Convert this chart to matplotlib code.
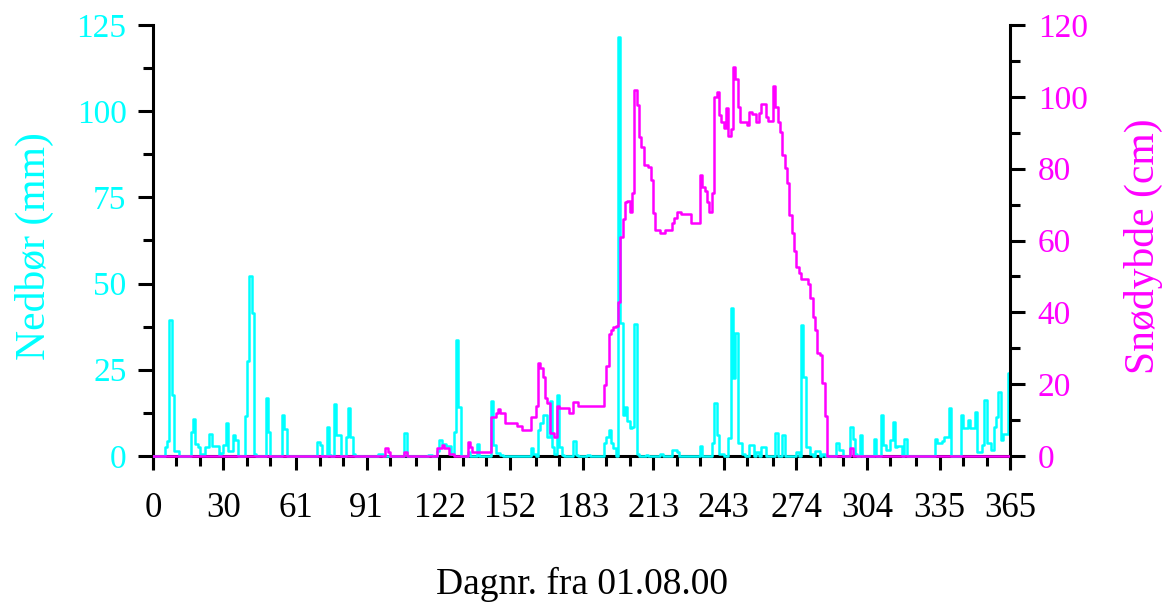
import matplotlib
matplotlib.use('Agg')
import matplotlib.pyplot as plt
import numpy as np

plt.rcParams['font.family'] = ['Liberation Serif', 'DejaVu Serif']

# daily precipitation (mm), only non-zero days listed
precip_day = [5, 6, 7, 8, 9, 10,
              16, 17, 18, 19, 20, 21, 22, 23, 24, 25, 26, 27, 28, 29, 30, 31, 32, 33, 34, 35,
              39, 40, 41, 42, 43, 48, 49, 55, 56,
              70, 71, 74, 75, 77, 78, 79, 82, 83, 84, 85,
              96, 97, 107, 117, 118,
              121, 122, 123, 124, 125, 126, 127, 128, 129, 130,
              134, 138, 144, 145, 146, 147, 148,
              161, 162, 164, 165, 166, 167, 168, 169, 170, 171, 172, 173, 174, 179, 180,
              185, 192, 193, 194, 195, 196, 198, 199, 200, 201, 202, 203, 204, 205, 206,
              210, 216, 221, 222, 223, 233, 238, 239, 240, 241, 242, 245, 246, 247, 248, 249, 250, 251,
              254, 255, 257, 259, 260, 265, 268, 274, 276, 277, 278, 279, 280, 282, 283, 285,
              291, 292, 293, 297, 298, 299, 301, 307,
              310, 311, 312, 313, 314, 315, 316, 317, 318, 320,
              333, 334, 335, 336, 337, 338, 339, 344, 345, 346, 347, 348, 349, 350, 351, 352, 353,
              354, 355, 356, 357, 358, 359, 360, 361, 362, 363, 364]
precip_mm = [2.7, 4.2, 39.4, 17.7, 1.5, 1.5,
             7.0, 10.7, 3.5, 2.7, 0.6, 0.6, 2.6, 2.6, 6.4, 3.0, 3.0, 3.0, 0.3, 0.8, 3.2, 9.5, 1.5, 1.5, 6.1, 4.5,
             11.7, 27.4, 52.2, 41.4, 0.5, 16.9, 7.0, 12.0, 7.8,
             3.9, 3.1, 8.3, 0.3, 15.1, 6.1, 6.1, 5.6, 13.8, 5.6, 0.6,
             0.5, 0.5, 6.6, 0.3, 0.3,
             1.5, 4.6, 3.6, 3.6, 2.9, 2.9, 0.5, 7.0, 33.6, 14.3,
             1.0, 3.4, 15.8, 3.2, 0.8, 0.8, 0.3,
             2.2, 0.5, 7.5, 9.5, 11.9, 11.9, 5.6, 15.8, 2.7, 0.5, 17.7, 2.7, 0.3, 4.2, 0.3,
             0.3, 3.7, 5.6, 7.5, 3.7, 2.4, 121.4, 38.5, 11.9, 14.3, 10.0, 8.0, 8.5, 38.3, 0.5,
             0.3, 0.5, 1.7, 1.7, 1.0, 2.9, 3.7, 15.3, 6.1, 0.5, 0.5, 5.1, 42.8, 22.5, 35.6, 3.7, 3.7, 0.5,
             3.2, 3.2, 1.0, 2.5, 2.5, 6.6, 6.1, 1.0, 38.0, 23.0, 2.7, 2.7, 0.5, 1.5, 1.5, 0.5,
             3.7, 1.7, 1.7, 8.3, 4.8, 0.5, 6.1, 4.8,
             11.9, 3.2, 1.7, 1.7, 4.6, 9.9, 2.7, 2.9, 2.9, 4.8,
             4.8, 3.7, 3.7, 4.2, 5.6, 5.6, 13.8, 11.9, 8.0, 8.0, 10.4, 8.0, 8.0, 12.6, 1.0, 1.0, 3.2,
             16.2, 3.7, 3.7, 1.7, 8.3, 11.4, 18.6, 4.6, 6.4, 6.4, 24.0]

# snow depth (cm), day where the value changes
snow_day = [0, 99, 100, 101, 107, 108, 121, 123, 124, 126, 128, 134, 135, 136,
            144, 146, 147, 148, 150, 155, 157, 161, 163, 164, 165, 166, 167, 168, 169, 171,
            172, 173, 177, 179, 181, 192, 193, 194, 195, 196, 197, 198, 199, 200, 201, 202,
            203, 204, 205, 206, 207, 208, 209, 211, 212, 213, 214, 216, 218, 221, 222, 223,
            225, 229, 233, 234, 235, 236, 237, 238, 239, 240, 241, 242, 243, 244, 245, 246,
            247, 248, 249, 250, 253, 254, 255, 257, 258, 259, 261, 262, 264, 265, 266, 267,
            268, 269, 270, 271, 272, 273, 274, 275, 276, 279, 280, 281, 282, 283, 284, 285,
            286, 287, 297, 298, 365]
snow_cm = [0, 2.1, 1.2, 0, 1.0, 0, 2.1, 3.1, 2.1, 0.5, 0, 4.0, 2.6, 1.0,
           10.9, 12.0, 13.2, 11.9, 9.1, 8.4, 7.2, 10.9, 13.9, 26.0, 24.4, 22.1, 16.1, 14.7, 6.3, 5.2,
           13.9, 13.3, 12.1, 15.1, 13.9, 19.8, 25.0, 33.9, 35.0, 36.0, 36.2, 43.0, 61.0, 65.9, 70.8, 71.0,
           68.0, 73.1, 101.9, 97.7, 88.9, 86.1, 81.0, 80.5, 76.8, 67.7, 62.9, 62.0, 63.0, 64.8, 66.2, 68.0,
           67.4, 65.0, 78.2, 75.0, 73.9, 70.8, 68.0, 73.3, 100.0, 101.4, 94.9, 93.1, 91.2, 97.0, 89.0, 91.0,
           108.2, 105.1, 97.3, 93.1, 92.1, 95.9, 95.2, 93.0, 95.4, 98.0, 94.5, 93.4, 103.0, 97.3, 93.1, 90.3,
           83.8, 80.1, 75.9, 67.1, 62.0, 57.2, 52.7, 50.9, 49.3, 47.9, 43.9, 38.8, 35.1, 28.8, 28.1, 20.2,
           11.1, 0, 2.1, 0, 0]

month_ticks = [0, 30, 61, 91, 122, 152, 183, 213, 243, 274, 304, 335, 365]
minor_ticks = [10, 20, 40, 50, 71, 81, 101, 112, 132, 142, 163, 173, 193, 203,
               223, 233, 253, 264, 284, 294, 314, 325, 345, 355]

cyan = '#00FFFF'
magenta = '#FF00FF'

days = np.arange(366)
precip = np.zeros(366)
precip[precip_day] = precip_mm
precip[365] = precip[364]

fig = plt.figure(figsize=(11.68, 6.06), dpi=100)
ax = fig.add_axes([153 / 1168, 1 - 468 / 606, (1010 - 153) / 1168, (468 - 25) / 606])
ax2 = ax.twinx()

ax.plot(days, precip, drawstyle='steps-post', color=cyan, lw=1.8, zorder=3)
ax2.plot(snow_day, snow_cm, drawstyle='steps-post', color=magenta, lw=1.8, zorder=3)

ax.set_xlim(0, 365)
ax.set_ylim(-3.5, 125)
ax2.set_ylim(-3.34, 120)

for s in ['top', 'right']:
    ax.spines[s].set_visible(False)
for s in ['top', 'left', 'bottom']:
    ax2.spines[s].set_visible(False)
ax.spines['bottom'].set_position(('data', 0))
for sp in [ax.spines['left'], ax.spines['bottom'], ax2.spines['right']]:
    sp.set_linewidth(2.2)

ax.set_xticks(month_ticks)
ax.set_xticks(minor_ticks, minor=True)
ax.set_yticks([0, 25, 50, 75, 100, 125])
ax.set_yticks([12.5, 37.5, 62.5, 87.5, 112.5], minor=True)
ax2.set_yticks([0, 20, 40, 60, 80, 100, 120])
ax2.set_yticks([10, 30, 50, 70, 90, 110], minor=True)

ax.tick_params(axis='x', which='major', direction='out', length=10, width=2.2, labelsize=25, pad=16)
ax.tick_params(axis='x', which='minor', direction='out', length=7, width=2.2)
ax.tick_params(axis='y', which='major', direction='out', length=11, width=2.2, labelsize=24,
               labelcolor=cyan, pad=8)
ax.tick_params(axis='y', which='minor', direction='out', length=7, width=2.2)
ax2.tick_params(axis='y', which='major', direction='out', length=11, width=2.2, labelsize=24,
                labelcolor=magenta, pad=9)
ax2.tick_params(axis='y', which='minor', direction='out', length=7, width=2.2)

ax.set_ylabel('Nedbør (mm)', color=cyan, fontsize=30, labelpad=16)
ax2.set_ylabel('Snødybde (cm)', color=magenta, fontsize=30, labelpad=26)
ax.set_xlabel('Dagnr. fra 01.08.00', fontsize=27, labelpad=30)

fig.savefig('out.png', dpi=100)
